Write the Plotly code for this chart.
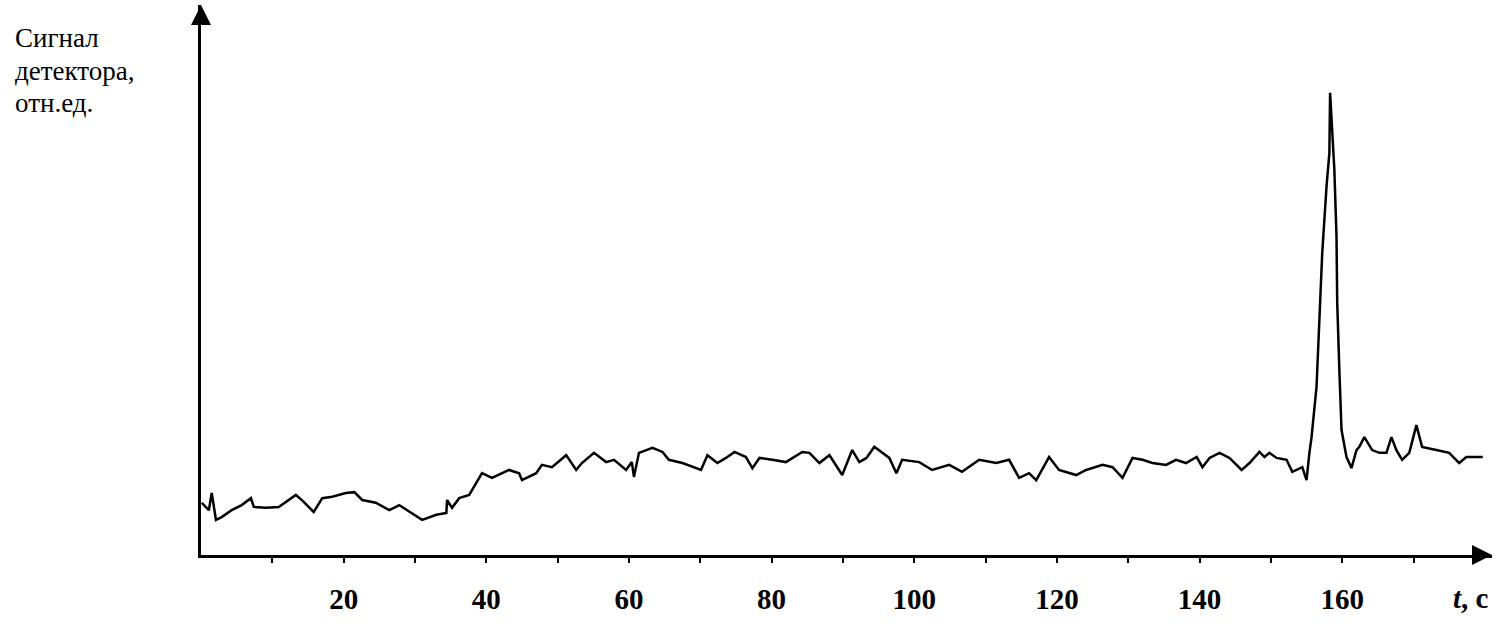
import plotly.graph_objects as go

# time, s
t = [0.1, 1.1, 1.5, 2.1, 2.9, 4.3, 5.7, 7.0, 7.4, 9.1, 10.9, 12.3, 13.3, 14.4, 15.8, 17.0,
     18.4, 20.3, 21.5, 22.6, 24.5, 26.4, 27.8, 29.5, 31.0, 33.0, 34.4, 34.5, 35.2, 36.2,
     37.6, 39.4, 40.8, 43.2, 44.6, 45.0, 47.0, 47.8, 49.2, 51.2, 52.6, 53.4, 55.1, 56.8,
     57.9, 59.6, 60.4, 60.7, 61.4, 63.3, 64.7, 65.6, 67.5, 70.1, 71.0, 72.4, 73.6, 74.8,
     76.4, 77.3, 78.3, 80.1, 82.0, 84.3, 85.3, 86.7, 88.1, 89.9, 91.3, 92.3, 93.3, 94.4,
     95.5, 96.5, 97.5, 98.3, 100.7, 102.5, 104.9, 106.7, 109.1, 111.5, 113.3, 114.7,
     116.1, 117.1, 118.9, 120.3, 122.7, 124.1, 126.4, 127.8, 129.2, 130.6, 132.0, 133.4,
     135.3, 136.7, 138.1, 139.6, 140.4, 141.4, 142.8, 144.2, 145.9, 147.0, 148.4, 149.1,
     149.8, 150.8, 152.2, 153.0, 154.4, 155.0, 155.4, 155.7, 156.4, 156.8, 157.2, 157.8,
     158.2, 158.3, 158.9, 159.2, 159.3, 159.6, 159.9, 160.6, 161.3, 162.0, 162.4, 163.1,
     164.2, 165.2, 166.2, 166.9, 167.6, 168.4, 169.4, 170.4, 171.2, 173.2, 175.0, 176.4,
     177.4, 179.7]

# detector signal, rel. units
signal = [11.3, 9.7, 13.4, 7.6, 8.2, 9.7, 10.8, 12.3, 10.4, 10.2, 10.4, 11.9, 13.0, 11.5,
          9.3, 12.3, 12.6, 13.4, 13.6, 11.9, 11.3, 9.7, 10.8, 9.1, 7.6, 8.7, 9.1, 11.9,
          10.2, 12.3, 13.0, 17.7, 16.7, 18.4, 17.7, 16.2, 17.7, 19.5, 19.0, 21.6, 18.4,
          19.9, 22.1, 20.1, 20.6, 18.4, 20.1, 16.9, 22.1, 23.2, 22.3, 20.6, 19.9, 18.4,
          21.6, 19.9, 21.0, 22.3, 21.2, 18.8, 21.0, 20.6, 20.1, 22.3, 22.1, 19.9, 21.6,
          17.3, 22.7, 20.1, 21.0, 23.4, 22.1, 21.0, 17.7, 20.6, 20.1, 18.4, 19.5, 18.0,
          20.6, 19.9, 20.6, 16.7, 17.7, 16.2, 21.2, 18.4, 17.3, 18.4, 19.5, 19.0, 16.7,
          21.0, 20.6, 19.9, 19.5, 20.6, 19.9, 21.2, 19.0, 21.0, 22.1, 21.0, 18.4, 19.9,
          22.3, 21.2, 22.1, 21.0, 20.6, 18.0, 19.0, 16.2, 22.1, 25.5, 36.4, 50.9, 65.4,
          79.7, 87.0, 100.0, 83.3, 68.8, 54.5, 40.0, 27.1, 21.2, 18.8, 22.7, 23.4, 25.5,
          22.7, 22.1, 22.1, 25.5, 22.7, 20.6, 22.1, 28.1, 23.4, 22.7, 22.1, 19.9, 21.2,
          21.2]

tick_vals = [10, 20, 30, 40, 50, 60, 70, 80, 90, 100, 110, 120, 130, 140, 150, 160, 170]
tick_text = ["", "20", "", "40", "", "60", "", "80", "", "100", "", "120", "", "140", "", "160", ""]

y_title_lines = ["Сигнал", "детектора,", "отн.ед."]

x_max = 181
y_max = 119

serif = "Liberation Serif"

fig = go.Figure()
fig.add_trace(go.Scatter(x=t, y=signal, mode="lines",
                         line=dict(color="black", width=2.5), hoverinfo="skip"))

fig.update_layout(
    width=1508, height=632,
    margin=dict(l=201, r=16, t=5, b=77),
    paper_bgcolor="white", plot_bgcolor="white",
    showlegend=False,
    xaxis=dict(range=[0, x_max], showgrid=False, zeroline=False, showline=True,
               linecolor="black", linewidth=2.5,
               tickmode="array", tickvals=tick_vals, ticktext=tick_text,
               ticks="outside", ticklen=5, tickwidth=2, tickcolor="black",
               tickfont=dict(family=serif, size=29, color="black", weight="bold"),
               ticklabelstandoff=11),
    yaxis=dict(range=[0, y_max], showgrid=False, zeroline=False, showline=True,
               linecolor="black", linewidth=2.5, showticklabels=False, ticks=""),
)

# arrow heads on axes
fig.add_annotation(x=0, y=y_max, ax=0, ay=y_max - 4, xref="x", yref="y",
                   axref="x", ayref="y", showarrow=True, arrowhead=2, arrowsize=1.6,
                   arrowwidth=2.5, arrowcolor="black", text="", standoff=0)
fig.add_annotation(x=x_max, y=0, ax=x_max - 2.5, ay=0, xref="x", yref="y",
                   axref="x", ayref="y", showarrow=True, arrowhead=2, arrowsize=1.6,
                   arrowwidth=2.5, arrowcolor="black", text="", standoff=0)

# axis titles
fig.add_annotation(x=178.1, y=-0.078, xref="x", yref="paper", showarrow=False,
                   text="<b><i>t</i>, с</b>", xanchor="center", yanchor="middle",
                   font=dict(family=serif, size=29, color="black"))
for line_text, ypos in zip(y_title_lines, [0.94, 0.88, 0.8218]):
    fig.add_annotation(x=-0.1456, y=ypos, xref="paper", yref="paper", showarrow=False,
                       text=line_text, xanchor="left", yanchor="middle",
                       align="left", font=dict(family=serif, size=27, color="black"))

fig.write_html("out.html", config={"displayModeBar": False},
               post_script="document.body.style.margin='0px';")
